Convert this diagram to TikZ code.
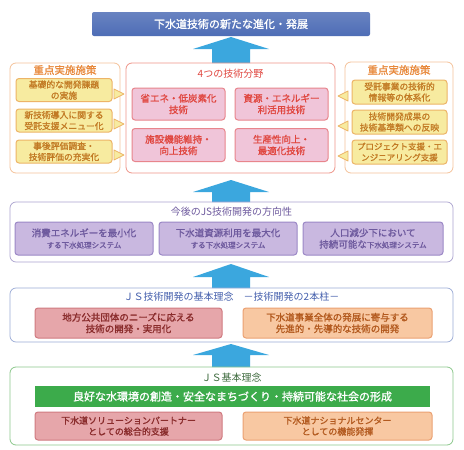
\documentclass[tikz,border=0pt]{standalone}
\usepackage{fontspec}
\setmainfont{Noto Sans CJK JP}[AutoFakeBold=1.2]
\definecolor{ttlblue}{HTML}{4E6DB6}
\definecolor{arrowblue}{HTML}{3BA7DE}
\definecolor{orgborder}{HTML}{F5C29A}
\definecolor{orgtext}{HTML}{E8883A}
\definecolor{ylwfill}{HTML}{F7EBA0}
\definecolor{ylwborder}{HTML}{EDB467}
\definecolor{ylwtext}{HTML}{C27A24}
\definecolor{redborder}{HTML}{EE9488}
\definecolor{redtext}{HTML}{E0463F}
\definecolor{pinkfill}{HTML}{F0C5D9}
\definecolor{pinkborder}{HTML}{E8858C}
\definecolor{purborder}{HTML}{ABA3CF}
\definecolor{purtext}{HTML}{6E5A9E}
\definecolor{purfill}{HTML}{C9B8E0}
\definecolor{purboxborder}{HTML}{9B88C6}
\definecolor{blueborder}{HTML}{9AAAD6}
\definecolor{bluetext}{HTML}{4560AD}
\definecolor{rosefill}{HTML}{E6A6AA}
\definecolor{roseborder}{HTML}{D07A80}
\definecolor{rosetext}{HTML}{8A2C2C}
\definecolor{peachfill}{HTML}{F8C8A2}
\definecolor{peachborder}{HTML}{EBA172}
\definecolor{peachtext}{HTML}{B35A1F}
\definecolor{grnborder}{HTML}{8CC88C}
\definecolor{grnbar}{HTML}{3CAB4B}
\definecolor{grntext}{HTML}{3E6B3E}
\begin{document}
\begin{tikzpicture}[x=1pt,y=-1pt,
  panel/.style={draw, rounded corners=6pt, line width=0.8pt, inner sep=0pt},
  box/.style={draw, rounded corners=3pt, line width=1pt, inner sep=0pt, align=center,
    font=\fontsize{9.5}{11.5}\selectfont\bfseries},
  sidebox/.style={box, fill=ylwfill, draw=ylwborder, text=ylwtext,
    font=\fontsize{8.8}{11}\selectfont\bfseries},
  ttl/.style={inner sep=0pt, font=\fontsize{10}{11}\selectfont},
  blockarrow/.style={fill=arrowblue},
  tri/.style={fill=ylwfill, draw=ylwborder, line width=0.8pt, line join=round}]
\useasboundingbox (0,0) rectangle (464,450);
\fill[white] (0,0) rectangle (464,450);

% title
\node[rounded corners=2pt, top color=ttlblue!85!white, bottom color=ttlblue, inner sep=0pt,
  minimum width=278pt, minimum height=24pt, text=white,
  font=\fontsize{11}{13}\selectfont\bfseries] (goal) at (231,24) {下水道技術の新たな進化・発展};

% arrow 1
\fill[blockarrow] (231,37) -- (269,49) -- (250,49) -- (250,63) -- (212,63) -- (212,49) -- (193,49) -- cycle;

% left panel
\node[panel, draw=orgborder, minimum width=110pt, minimum height=110pt] (lp) at (65,118) {};
\node[ttl, text=orgtext, font=\fontsize{10.5}{11}\selectfont\bfseries] (lpt) at (65,70) {重点実施施策};
\node[sidebox, minimum width=96pt, minimum height=23pt] (l1) at (64,90) {基礎的な開発課題\\の実施};
\node[sidebox, minimum width=96pt, minimum height=23pt] (l2) at (64,120.5) {新技術導入に関する\\受託支援メニュー化};
\node[sidebox, minimum width=96pt, minimum height=23pt] (l3) at (64,151.5) {事後評価調査・\\技術評価の充実化};

% center panel
\node[panel, draw=redborder, minimum width=209pt, minimum height=110pt] (cp) at (230.5,118) {};
\node[ttl, text=redtext] (cpt) at (230.5,74) {4つの技術分野};
\node[box, fill=pinkfill, draw=pinkborder, text=redtext, minimum width=93pt, minimum height=32pt] (c1) at (178.5,104) {省エネ・低炭素化\\技術};
\node[box, fill=pinkfill, draw=pinkborder, text=redtext, minimum width=93pt, minimum height=32pt] (c2) at (281.5,104) {資源・エネルギー\\利活用技術};
\node[box, fill=pinkfill, draw=pinkborder, text=redtext, minimum width=93pt, minimum height=33pt] (c3) at (178.5,145) {施設機能維持・\\向上技術};
\node[box, fill=pinkfill, draw=pinkborder, text=redtext, minimum width=93pt, minimum height=33pt] (c4) at (281.5,145) {生産性向上・\\最適化技術};

% right panel
\node[panel, draw=orgborder, minimum width=108pt, minimum height=111pt] (rp) at (399,117.5) {};
\node[ttl, text=orgtext, font=\fontsize{10.5}{11}\selectfont\bfseries] (rpt) at (399,70) {重点実施施策};
\node[sidebox, minimum width=95pt, minimum height=24pt] (r1) at (399.5,92) {受託事業の技術的\\情報等の体系化};
\node[sidebox, minimum width=95pt, minimum height=24pt] (r2) at (399.5,122) {技術開発成果の\\技術基準類への反映};
\node[sidebox, minimum width=95pt, minimum height=24pt, font=\fontsize{8.5}{11}\selectfont\bfseries] (r3) at (399.5,152) {プロジェクト支援・エ\\ンジニアリング支援};

% triangles
\foreach \y in {94,124,155} {
  \draw[tri] (114,\y-5) -- (124,\y) -- (114,\y+5) -- cycle;
}
\foreach \y in {96,126,156} {
  \draw[tri] (348,\y-5) -- (338,\y) -- (348,\y+5) -- cycle;
}

% arrow 2
\fill[blockarrow] (231,180) -- (269,192) -- (250,192) -- (250,202) -- (212,202) -- (212,192) -- (193,192) -- cycle;

% purple panel
\node[panel, draw=purborder, line width=0.7pt, minimum width=443pt, minimum height=60pt] (pp) at (231.5,232) {};
\node[ttl, text=purtext] (ppt) at (231.5,212) {今後のJS技術開発の方向性};
\node[box, fill=purfill, draw=purboxborder, text=purtext, minimum width=138pt, minimum height=33pt] (p1) at (84,238.5) {消費エネルギーを最小化\\{\fontsize{7.5}{9}\selectfont する下水処理システム}};
\node[box, fill=purfill, draw=purboxborder, text=purtext, minimum width=138pt, minimum height=33pt] (p2) at (228,238.5) {下水道資源利用を最大化\\{\fontsize{7.5}{9}\selectfont する下水処理システム}};
\node[box, fill=purfill, draw=purboxborder, text=purtext, minimum width=140pt, minimum height=33pt] (p3) at (373,238.5) {人口減少下において\\持続可能な{\fontsize{7.5}{9}\selectfont 下水処理システム}};

% arrow 3
\fill[blockarrow] (231,264) -- (269,277) -- (250,277) -- (250,288) -- (212,288) -- (212,277) -- (193,277) -- cycle;

% panel 4
\node[panel, draw=blueborder, line width=0.7pt, minimum width=443pt, minimum height=54pt] (bp) at (231.5,315) {};
\node[ttl, text=bluetext] (bpt) at (231.5,297) {ＪＳ技術開発の基本理念\quad －技術開発の2本柱－};
\node[box, fill=rosefill, draw=roseborder, text=rosetext, minimum width=187pt, minimum height=30pt] (b1) at (128.5,323) {地方公共団体のニーズに応える\\技術の開発・実用化};
\node[box, fill=peachfill, draw=peachborder, text=peachtext, minimum width=189pt, minimum height=30pt] (b2) at (337.5,323) {下水道事業全体の発展に寄与する\\先進的・先導的な技術の開発};

% arrow 4
\fill[blockarrow] (231,344) -- (269,355) -- (250,355) -- (250,367) -- (212,367) -- (212,355) -- (193,355) -- cycle;

% panel 5
\node[panel, draw=grnborder, line width=0.8pt, minimum width=443pt, minimum height=78pt] (gp) at (231.5,406) {};
\node[ttl, text=grntext] (gpt) at (231.5,378) {ＪＳ基本理念};
\node[fill=grnbar, inner sep=0pt, minimum width=395pt, minimum height=21pt, text=white,
  font=\fontsize{11}{12}\selectfont\bfseries] (gbar) at (232.5,396.5) {良好な水環境の創造・安全なまちづくり・持続可能な社会の形成};
\node[box, fill=rosefill, draw=roseborder, text=rosetext, minimum width=187pt, minimum height=28pt,
  font=\fontsize{9}{11}\selectfont\bfseries] (g1) at (128.5,426) {下水道ソリューションパートナー\\としての総合的支援};
\node[box, fill=peachfill, draw=peachborder, text=peachtext, minimum width=189pt, minimum height=28pt,
  font=\fontsize{9}{11}\selectfont\bfseries] (g2) at (337.5,426) {下水道ナショナルセンター\\としての機能発揮};
\end{tikzpicture}
\end{document}
